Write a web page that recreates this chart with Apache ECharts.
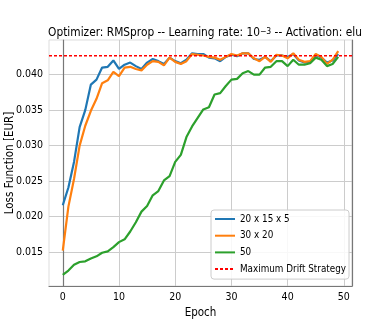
<!DOCTYPE html>
<html>
<head>
<meta charset="utf-8">
<script src="https://cdn.jsdelivr.net/npm/echarts@6/dist/echarts.min.js"></script>
<style>html,body{margin:0;padding:0;background:#fff;}#c{width:392px;height:327px;}</style>
</head>
<body>
<div id="c"></div>
<script>
const epochs = Array.from({length: 50}, (_, i) => i);
const xTicks = [0, 10, 20, 30, 40, 50];
const yTicks = [0.015, 0.020, 0.025, 0.030, 0.035, 0.040];
const seriesNames = ['20 x 15 x 5', '30 x 20', '50', 'Maximum Drift Strategy'];
const net20x15x5 = [0.0216, 0.0241, 0.0277, 0.0326, 0.0350, 0.0386, 0.0393, 0.0410, 0.0411, 0.0420,
  0.0408, 0.0414, 0.0417, 0.0412, 0.0408, 0.0417, 0.0422, 0.0419, 0.0415, 0.0424,
  0.0419, 0.0416, 0.0421, 0.0430, 0.0429, 0.0429, 0.0424, 0.0423, 0.0419, 0.0425,
  0.0428, 0.0426, 0.0430, 0.0430, 0.0422, 0.0421, 0.0425, 0.0419, 0.0427, 0.0427,
  0.0425, 0.0429, 0.0420, 0.0417, 0.0418, 0.0428, 0.0424, 0.0417, 0.0420, 0.0429];
const net30x20 = [0.0152, 0.0214, 0.0253, 0.0300, 0.0328, 0.0349, 0.0366, 0.0388, 0.0392, 0.0404,
  0.0398, 0.0410, 0.0411, 0.0408, 0.0406, 0.0414, 0.0419, 0.0418, 0.0413, 0.0424,
  0.0418, 0.0415, 0.0419, 0.0429, 0.0428, 0.0427, 0.0425, 0.0424, 0.0421, 0.0425,
  0.0429, 0.0427, 0.0430, 0.0430, 0.0423, 0.0419, 0.0425, 0.0418, 0.0428, 0.0427,
  0.0423, 0.0430, 0.0421, 0.0418, 0.0419, 0.0429, 0.0425, 0.0415, 0.0421, 0.0433];
const net50 = [0.0118, 0.0124, 0.0132, 0.0136, 0.0137, 0.0141, 0.0144, 0.0149, 0.0151, 0.0157,
  0.0164, 0.0168, 0.0179, 0.0192, 0.0207, 0.0215, 0.0230, 0.0236, 0.0251, 0.0257,
  0.0277, 0.0287, 0.0312, 0.0327, 0.0339, 0.0351, 0.0354, 0.0372, 0.0374, 0.0384,
  0.0393, 0.0394, 0.0402, 0.0405, 0.0400, 0.0400, 0.0410, 0.0411, 0.0419, 0.0419,
  0.0412, 0.0421, 0.0414, 0.0414, 0.0416, 0.0424, 0.0421, 0.0412, 0.0415, 0.0425];
const maxDrift = 0.04265;

const X_MIN = -2.45, X_MAX = 51.45;
const Y_MIN = 0.01022, Y_MAX = 0.04488;

const FONT = '"DejaVu Sans Condensed", "DejaVu Sans", sans-serif';
const pairs = arr => epochs.map((e, i) => [e, arr[i]]);
const colors = ['#1f77b4', '#ff7f0e', '#2ca02c', '#ff0000'];
const dash = {color: colors[3], width: 1.5, type: [3, 2]};

const chart = echarts.init(document.getElementById('c'), null, {renderer: 'canvas'});
const lineSeries = (name, arr, color) => ({
  name, type: 'line', data: pairs(arr), showSymbol: false, symbol: 'none',
  lineStyle: {color, width: 2.2}, itemStyle: {color}, animation: false, z: 3
});
chart.setOption({
  animation: false,
  title: {
    text: 'Optimizer: RMSprop -- Learning rate: 10{sup|−3} -- Activation: elu',
    left: 200, top: 22, textAlign: 'center',
    textStyle: {
      fontFamily: FONT, fontSize: 11.8, fontWeight: 'normal', color: '#000',
      rich: {sup: {fontFamily: FONT, fontSize: 8.5, verticalAlign: 'top', color: '#000'}}
    }
  },
  grid: {left: 49, top: 40, right: 40, bottom: 41, show: true, borderColor: '#dddddd', borderWidth: 1,
    outerBoundsMode: 'none', containLabel: false},
  legend: {
    orient: 'vertical', left: 211, top: 210,
    data: seriesNames,
    itemWidth: 20, itemHeight: 12, itemGap: 4.7,
    padding: [3, 3, 4, 3],
    itemStyle: {opacity: 0},
    backgroundColor: 'rgba(255,255,255,0.85)', borderColor: '#cccccc', borderWidth: 1, borderRadius: 3,
    textStyle: {fontFamily: FONT, fontSize: 9.8, color: '#000', lineHeight: 12}
  },
  xAxis: {
    type: 'value', min: X_MIN, max: X_MAX,
    name: 'Epoch', nameLocation: 'middle', nameGap: 21, nameMoveOverlap: false,
    nameTextStyle: {fontFamily: FONT, fontSize: 11.5, color: '#000'},
    axisLine: {show: true, lineStyle: {color: '#777', width: 1.2}},
    axisTick: {show: false, customValues: xTicks},
    axisLabel: {customValues: xTicks, fontFamily: FONT, fontSize: 10.5, color: '#000', margin: 6},
    splitLine: {show: true, lineStyle: {color: '#cccccc', width: 1}}
  },
  yAxis: [{
    type: 'value', min: Y_MIN, max: Y_MAX,
    name: 'Loss Function [EUR]', nameLocation: 'middle', nameGap: 33, nameMoveOverlap: false,
    nameTextStyle: {fontFamily: FONT, fontSize: 11.5, color: '#000'},
    axisLine: {show: true, lineStyle: {color: '#777', width: 1.2}},
    axisTick: {show: false, customValues: yTicks},
    axisLabel: {customValues: yTicks, fontFamily: FONT, fontSize: 10.5, color: '#000', margin: 6,
      formatter: v => v.toFixed(3)},
    splitLine: {show: true, lineStyle: {color: '#cccccc', width: 1}}
  }, {
    type: 'value', min: Y_MIN, max: Y_MAX, position: 'right',
    axisLine: {show: true, lineStyle: {color: '#777', width: 1.2}},
    axisTick: {show: false}, axisLabel: {show: false}, splitLine: {show: false}
  }],
  series: [
    lineSeries(seriesNames[0], net20x15x5, colors[0]),
    lineSeries(seriesNames[1], net30x20, colors[1]),
    lineSeries(seriesNames[2], net50, colors[2]),
    {
      name: seriesNames[3], type: 'line', symbol: 'none', showSymbol: false, z: 4,
      data: [[X_MIN, maxDrift], [X_MAX, maxDrift]],
      lineStyle: dash, itemStyle: {color: colors[3]}
    }
  ]
});
</script>
</body>
</html>
